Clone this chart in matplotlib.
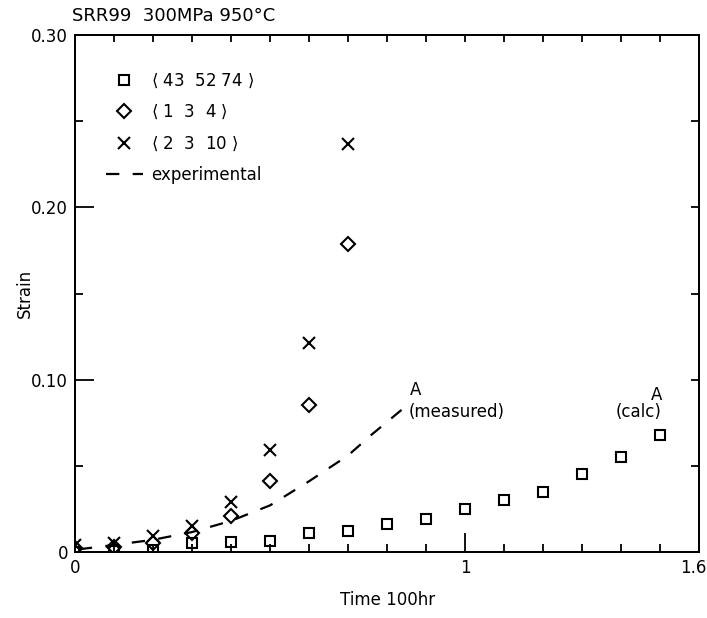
import matplotlib.pyplot as plt
import matplotlib.transforms as mtransforms
import numpy as np

# time in 100 hr, strain
t_sq = [0.0, 0.1, 0.2, 0.3, 0.4, 0.5, 0.6, 0.7, 0.8, 0.9, 1.0, 1.1, 1.2, 1.3, 1.4, 1.5]
s_sq = [0.0, 0.0005, 0.001, 0.005, 0.006, 0.0065, 0.011, 0.012, 0.016, 0.019,
        0.025, 0.030, 0.035, 0.045, 0.055, 0.068]

t_di = [0.0, 0.1, 0.2, 0.3, 0.4, 0.5, 0.6, 0.7]
s_di = [0.002, 0.003, 0.005, 0.011, 0.021, 0.041, 0.085, 0.179]

t_x = [0.0, 0.1, 0.2, 0.3, 0.4, 0.5, 0.6, 0.7]
s_x = [0.004, 0.005, 0.009, 0.015, 0.029, 0.059, 0.121, 0.237]

t_exp = [0.01, 0.1, 0.2, 0.3, 0.4, 0.5, 0.6, 0.7, 0.76, 0.84]
s_exp = [0.0015, 0.004, 0.007, 0.0115, 0.018, 0.027, 0.041, 0.056, 0.068, 0.083]

plt.rcParams['font.family'] = ['DejaVu Sans']
plt.rcParams['font.size'] = 12

fig = plt.figure(figsize=(7.07, 6.18), dpi=100)
ax = fig.add_axes([0.106, 0.107, 0.883, 0.836])

ax.plot(t_sq, s_sq, 's', ms=7.5, mfc='none', mec='black', mew=1.5, ls='none',
        label=r'$\langle$ 43  52 74 $\rangle$')
ax.plot(t_di, s_di, 'D', ms=7.5, mfc='none', mec='black', mew=1.5, ls='none',
        label=r'$\langle$ 1  3  4 $\rangle$')
ax.plot(t_x, s_x, 'x', ms=9, mec='black', mew=1.5, ls='none',
        label=r'$\langle$ 2  3  10 $\rangle$')
ax.plot(t_exp, s_exp, color='black', lw=1.6, dashes=(6, 6), label='experimental')

ax.text(0.874, 0.094, 'A', ha='center', va='center', fontsize=12)
ax.text(0.854, 0.081, '(measured)', ha='left', va='center', fontsize=12)
ax.text(1.49, 0.091, 'A', ha='center', va='center', fontsize=12)
ax.text(1.444, 0.081, '(calc)', ha='center', va='center', fontsize=12)

ax.set_xlim(0, 1.6)
ax.set_ylim(0, 0.30)
ax.set_xticks([0, 1, 1.6])
ax.set_xticklabels(['0', '1', '1.6'])
ax.set_xticks(np.arange(0.1, 1.6, 0.1), minor=True)
ax.set_yticks([0, 0.10, 0.20, 0.30])
ax.set_yticklabels(['0', '0.10', '0.20', '0.30'])
ax.set_yticks([0.05, 0.15, 0.25], minor=True)
ax.tick_params(which='major', direction='in', length=14, width=1.3, labelsize=12, pad=5)
ax.tick_params(which='minor', direction='in', length=6, width=1.3)

# keep "1.6" inside the figure
lab16 = ax.get_xticklabels()[-1]
lab16.set_transform(lab16.get_transform() +
                    mtransforms.ScaledTranslation(-6 / 100, 0, fig.dpi_scale_trans))

# short inward ticks on top and right
axt = ax.twiny()
axt.set_xlim(0, 1.6)
axt.set_xticks(np.arange(0.1, 1.6, 0.1))
axt.tick_params(direction='in', length=5, width=1.3, labeltop=False)
axr = ax.twinx()
axr.set_ylim(0, 0.30)
axr.set_yticks([0.05, 0.10, 0.15, 0.20, 0.25])
axr.tick_params(direction='in', length=6, width=1.3, labelright=False)

for a in (ax, axt, axr):
    for s in a.spines.values():
        s.set_linewidth(1.3)

ax.set_xlabel('Time 100hr', fontsize=12, labelpad=10)
ax.set_ylabel('Strain', fontsize=12, labelpad=-2)
ax.set_title('SRR99  300MPa 950°C', loc='left', fontsize=13, x=-0.005, pad=10)

ax.legend(loc='upper left', bbox_to_anchor=(0.05, 0.93), frameon=False,
          borderaxespad=0, borderpad=0, handlelength=2.2, handletextpad=0.5,
          labelspacing=0.8, fontsize=12, numpoints=1)

fig.savefig('out.png', dpi=100)
